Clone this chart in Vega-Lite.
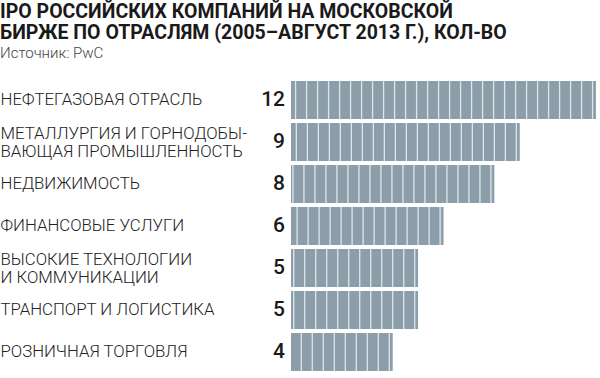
{
  "$schema": "https://vega.github.io/schema/vega-lite/v6.json",
  "width": 309,
  "height": 294,
  "autosize": {"type": "none"},
  "padding": {"left": 291, "top": 79, "right": 0, "bottom": 5},
  "background": "white",
  "title": {
    "text": ["IPO РОССИЙСКИХ КОМПАНИЙ НА МОСКОВСКОЙ", "БИРЖЕ ПО ОТРАСЛЯМ (2005–АВГУСТ 2013 Г.), КОЛ-ВО"],
    "subtitle": "Источник: PwC",
    "anchor": "start",
    "frame": "bounds",
    "offset": 17
  },
  "data": {
    "values": [
      {"label": "НЕФТЕГАЗОВАЯ ОТРАСЛЬ", "count": 12},
      {"label": "МЕТАЛЛУРГИЯ И ГОРНОДОБЫ-|ВАЮЩАЯ ПРОМЫШЛЕННОСТЬ", "count": 9},
      {"label": "НЕДВИЖИМОСТЬ", "count": 8},
      {"label": "ФИНАНСОВЫЕ УСЛУГИ", "count": 6},
      {"label": "ВЫСОКИЕ ТЕХНОЛОГИИ|И КОММУНИКАЦИИ", "count": 5},
      {"label": "ТРАНСПОРТ И ЛОГИСТИКА", "count": 5},
      {"label": "РОЗНИЧНАЯ ТОРГОВЛЯ", "count": 4}
    ]
  },
  "layer": [
    {
      "mark": {"type": "bar", "height": 38, "color": "#dfe6ea"},
      "encoding": {
        "y": {
          "field": "label",
          "type": "nominal",
          "sort": null,
          "scale": {"paddingInner": 0, "paddingOuter": 0},
          "axis": {
            "title": null,
            "domain": false,
            "ticks": false,
            "labelAlign": "left",
            "labelBaseline": "middle",
            "labelPadding": 291,
            "labelOffset": {"condition": {"test": "indexof(datum.value, '|') >= 0", "value": -8}, "value": 0},
            "labelFont": "Roboto",
            "labelFontSize": 16.8,
            "labelFontWeight": 300,
            "labelColor": "#222222",
            "labelLineHeight": 17.5,
            "labelLimit": 0,
            "labelExpr": "split(datum.label, '|')"
          }
        },
        "x": {"field": "count", "type": "quantitative", "scale": {"domain": [0, 12.16], "nice": false}, "axis": null}
      }
    },
    {
      "mark": {"type": "rule", "strokeWidth": 38, "strokeCap": "butt", "strokeDash": [9.7, 1.3], "strokeDashOffset": 7, "color": "#8c9ea9"},
      "encoding": {
        "y": {"field": "label", "type": "nominal", "sort": null},
        "x": {"field": "count", "type": "quantitative"},
        "x2": {"datum": 0}
      }
    },
    {
      "mark": {"type": "text", "align": "right", "baseline": "middle", "dx": -6, "font": "Roboto", "fontSize": 21, "fontWeight": 500, "color": "#1a1a1a"},
      "encoding": {
        "y": {"field": "label", "type": "nominal", "sort": null},
        "x": {"datum": 0},
        "text": {"field": "count", "type": "quantitative"}
      }
    }
  ],
  "config": {
    "view": {"stroke": null},
    "title": {
      "font": "Liberation Sans Narrow, Roboto",
      "fontSize": 19.5,
      "fontWeight": "bold",
      "color": "#1a1a1a",
      "lineHeight": 21,
      "subtitleFont": "Roboto",
      "subtitleFontSize": 15,
      "subtitleFontWeight": 300,
      "subtitleColor": "#444444",
      "subtitlePadding": 3
    }
  }
}
